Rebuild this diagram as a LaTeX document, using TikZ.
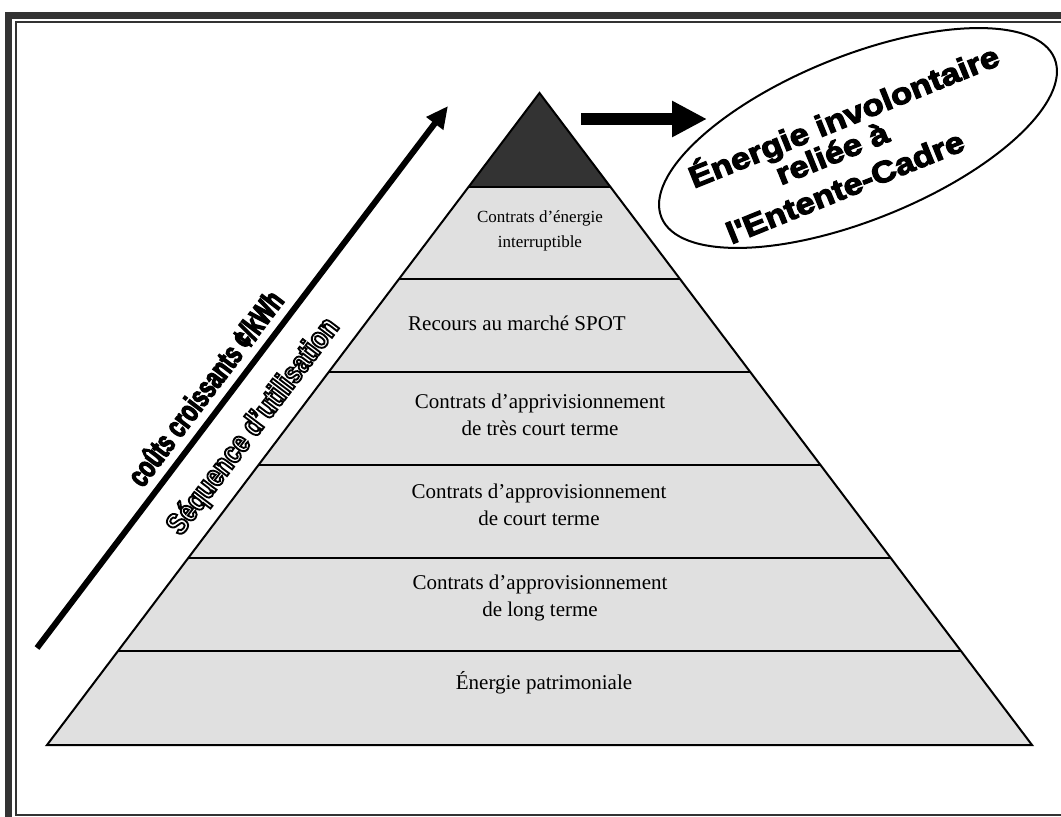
\documentclass[tikz,border=0pt]{standalone}
\usepackage{fontspec}
\setmainfont{Liberation Serif}
\newfontfamily\heavyfont{Liberation Sans}[FakeStretch=1.15,FakeBold=4]
\newfontfamily\condfont{Liberation Sans}[FakeStretch=0.68,FakeBold=4]
\newfontfamily\outlinefont{Liberation Sans}[FakeStretch=0.8,FakeBold=6]
\newcommand{\hollow}[1]{\special{pdf:literal direct 1 g 0 G}#1\special{pdf:literal direct 0 g 0 G}}
\usetikzlibrary{arrows.meta,calc,shapes.geometric}
\definecolor{framegray}{HTML}{333333}
\definecolor{layergray}{HTML}{E0E0E0}
\definecolor{topgray}{HTML}{333333}
\begin{document}
\begin{tikzpicture}[x=1pt,y=-1pt,
  edge/.style={line width=2pt,draw=black,line join=miter},
  layertext/.style={font=\fontsize{21}{27}\selectfont,align=center,text=black,inner sep=0pt},
  smalltext/.style={font=\fontsize{17}{25}\selectfont,align=center,text=black,inner sep=0pt},
  ovaltext/.style={font=\heavyfont\bfseries\fontsize{30}{30}\selectfont,rotate=22,inner sep=0pt},
  slanttext/.style={rotate=52.8,inner sep=0pt}]
\useasboundingbox (0,0) rectangle (1061,817);
% frame
\draw[framegray,line width=7pt] (8,830) -- (8,15) -- (1075,15);
\draw[framegray,line width=2.5pt] (1075,22) -- (16,22) -- (16,815) -- (1075,815);
% pyramid
\coordinate (A) at (539.5,93);
\coordinate (BL) at (47,745);
\coordinate (BR) at (1032,745);
\foreach \y [count=\i] in {187,279,372,465,558,651} {
  \coordinate (L\i) at ($(A)!{(\y-93)/652}!(BL)$);
  \coordinate (R\i) at ($(A)!{(\y-93)/652}!(BR)$);
}
\fill[layergray] (A) -- (BL) -- (BR) -- cycle;
\fill[topgray] (A) -- (L1) -- (R1) -- cycle;
\foreach \i in {1,...,6} \draw[edge] (L\i) -- (R\i);
\draw[edge] (A) -- (BL) -- (BR) -- cycle;
% layer texts
\node[smalltext] (t1) at (540,230.5) {Contrats d’énergie\\interruptible};
\node[layertext] (t2) at (517,323) {Recours au marché SPOT};
\node[layertext] (t3) at (540,415) {Contrats d’apprivisionnement\\de très court terme};
\node[layertext] (t4) at (539,505) {Contrats d’approvisionnement\\de court terme};
\node[layertext] (t5) at (540,598) {Contrats d’approvisionnement\\de long terme};
\node[layertext] (t6) at (544,683) {Énergie patrimoniale};
% ellipse
\node[draw,ellipse,line width=2pt,minimum width=424pt,minimum height=164pt,rotate=22,inner sep=0pt] (ell) at (858,138) {};
\node[ovaltext] (o1) at (844,117) {Énergie involontaire};
\node[ovaltext] (o2) at (832,153) {reliée à};
\node[ovaltext] (o3) at (845,187) {l'Entente-Cadre};
% horizontal arrow
\coordinate (hs) at (581,119);
\coordinate (he) at (707,119);
\draw[line width=12pt,-{Triangle[length=35pt,width=34pt]}] (hs) -- (he);
% diagonal arrow
\coordinate (as) at (37,648);
\coordinate (ae) at (448,106);
\draw[line width=6pt,-{Triangle[length=22pt,width=20pt]}] (as) -- (ae);
% slanted labels
\node[slanttext,font=\condfont\bfseries\fontsize{31}{31}\selectfont] (cost) at (205,388) {coûts croissants ¢/kWh};
\node[slanttext,font=\outlinefont\bfseries\fontsize{31}{31}\selectfont] (seq) at (254,427) {\hollow{Séquence d’utilisation}};
\end{tikzpicture}
\end{document}
